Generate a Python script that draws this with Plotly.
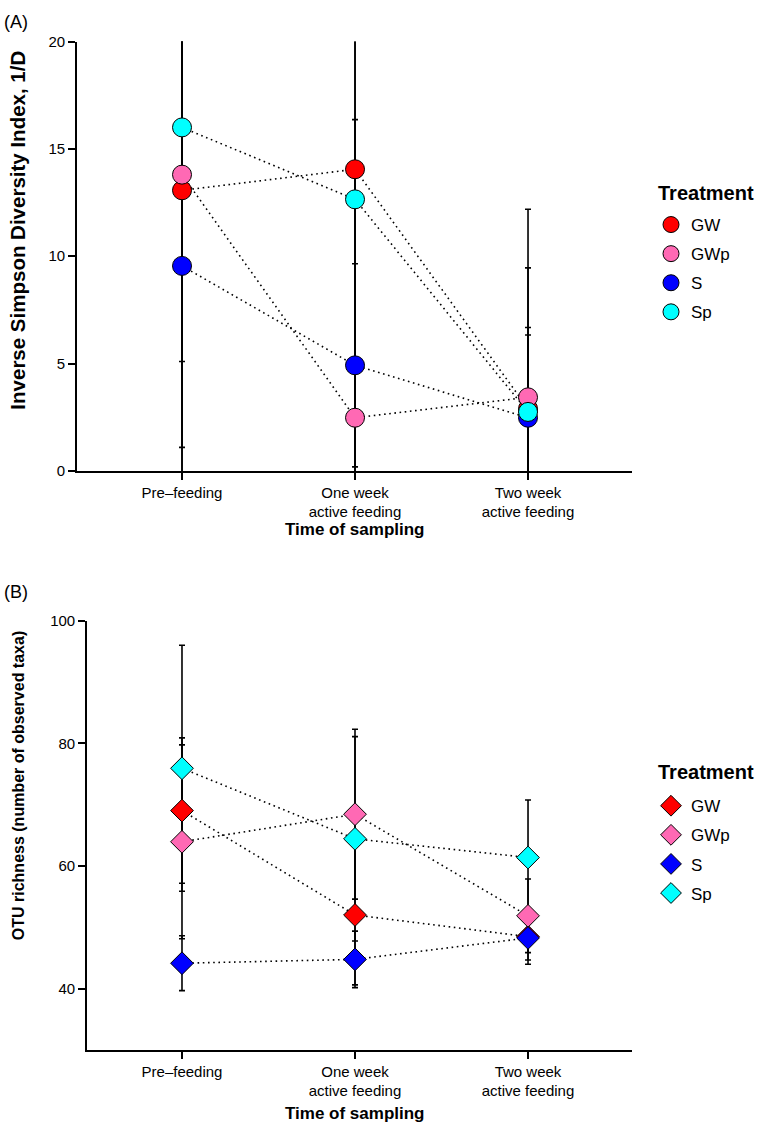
import plotly.graph_objects as go

# ---------------- data ----------------
tick_labels = ["Pre\u2013feeding", "One week<br>active feeding", "Two week<br>active feeding"]
time_pos = [1, 2, 3]
treatments = ["GW", "GWp", "S", "Sp"]
colors = ["#FF0000", "#FF69B4", "#0000FF", "#00FFFF"]

# Panel A: Inverse Simpson diversity (mean, error)
simpson_GW = [13.07, 14.05, 2.9]
simpson_GWp = [13.8, 2.48, 3.43]
simpson_S = [9.55, 4.92, 2.48]
simpson_Sp = [16.0, 12.65, 2.75]
simpson_err_GW = [14.0, 15.0, 6.56]
simpson_err_GWp = [12.7, 13.88, 8.76]
simpson_err_S = [11.0, 4.73, 3.85]
simpson_err_Sp = [10.9, 13.5, 3.93]

# Panel B: OTU richness (mean, error)
otu_GW = [69.05, 52.04, 48.5]
otu_GWp = [63.97, 68.46, 51.9]
otu_S = [44.17, 44.8, 48.3]
otu_Sp = [75.95, 64.45, 61.4]
otu_err_GW = [11.85, 11.4, 4.5]
otu_err_GWp = [15.8, 13.84, 6.0]
otu_err_S = [4.47, 4.6, 3.6]
otu_err_Sp = [20.05, 16.65, 9.37]

simpson = [simpson_GW, simpson_GWp, simpson_S, simpson_Sp]
simpson_err = [simpson_err_GW, simpson_err_GWp, simpson_err_S, simpson_err_Sp]
otu = [otu_GW, otu_GWp, otu_S, otu_Sp]
otu_err = [otu_err_GW, otu_err_GWp, otu_err_S, otu_err_Sp]

# ---------------- figure ----------------
W, H = 766, 1136
FONT = "Liberation Sans, Arial, Helvetica, sans-serif"
fig = go.Figure()


def px_x(p):
    return p / W


def px_y(p):
    return 1 - p / H


def add_panel(means, errs, xa, ya, symbol, msize, legend):
    # error bars first (beneath everything)
    for m, e in zip(means, errs):
        fig.add_trace(go.Scatter(
            x=time_pos, y=m, mode="markers", xaxis=xa, yaxis=ya,
            marker=dict(size=1, color="rgba(0,0,0,0)"),
            error_y=dict(type="data", array=e, visible=True, color="black",
                         thickness=1.6, width=3),
            showlegend=False, hoverinfo="skip"))
    # dotted connecting lines
    for m in means:
        fig.add_trace(go.Scatter(
            x=time_pos, y=m, mode="lines", xaxis=xa, yaxis=ya,
            line=dict(color="black", width=1.6, dash="1.6px,3.6px"),
            showlegend=False, hoverinfo="skip"))
    # markers
    for name, m, c in zip(treatments, means, colors):
        fig.add_trace(go.Scatter(
            x=time_pos, y=m, mode="markers", xaxis=xa, yaxis=ya, name=name,
            marker=dict(symbol=symbol, size=msize, color=c,
                        line=dict(color="black", width=1)),
            legend=legend, legendgroup=legend + name))


add_panel(simpson, simpson_err, "x", "y", "circle", 19, "legend")
add_panel(otu, otu_err, "x2", "y2", "diamond", 17.5, "legend2")

axis_common = dict(
    showline=True, linecolor="black", linewidth=1.6, ticks="outside",
    ticklen=7, tickwidth=1.6, tickcolor="black", showgrid=False,
    zeroline=False, tickfont=dict(family=FONT, size=15, color="black"),
)

legend_common = dict(xanchor="left", yanchor="top", font=dict(size=17, family=FONT),
                     tracegroupgap=4, bgcolor="rgba(0,0,0,0)")

fig.update_layout(
    width=W, height=H, margin=dict(l=0, r=0, t=0, b=0),
    paper_bgcolor="white", plot_bgcolor="white",
    font=dict(family=FONT, color="black"),
    xaxis=dict(domain=[px_x(77), px_x(632)], range=[0.393, 3.601],
               tickvals=time_pos, ticktext=tick_labels, anchor="y", **axis_common),
    yaxis=dict(domain=[px_y(469), px_y(33)], range=[0, 20],
               tickvals=[0, 5, 10, 15, 20], anchor="x", **axis_common),
    xaxis2=dict(domain=[px_x(87), px_x(632)], range=[0.451, 3.601],
                tickvals=time_pos, ticktext=tick_labels, anchor="y2", **axis_common),
    yaxis2=dict(domain=[px_y(1057), px_y(621)], range=[30, 100],
                tickvals=[40, 60, 80, 100], anchor="x2", **axis_common),
    legend=dict(x=px_x(651), y=px_y(201), **legend_common),
    legend2=dict(x=px_x(651), y=px_y(791), **legend_common),
)

annotations = [
    dict(text="(A)", x=px_x(2), y=px_y(13), xanchor="left", yanchor="middle",
         font=dict(size=18)),
    dict(text="(B)", x=px_x(2), y=px_y(592), xanchor="left", yanchor="middle",
         font=dict(size=18)),
    dict(text="<b>Inverse Simpson Diversity Index, 1/D</b>", textangle=-90,
         x=px_x(18), y=px_y(225), xanchor="center", yanchor="middle",
         font=dict(size=20.5)),
    dict(text="<b>OTU richness (number of observed taxa)</b>", textangle=-90,
         x=px_x(18), y=px_y(789), xanchor="center", yanchor="middle",
         font=dict(size=16)),
    dict(text="<b>Time of sampling</b>", x=px_x(355), y=px_y(528),
         xanchor="center", yanchor="middle", font=dict(size=17)),
    dict(text="<b>Time of sampling</b>", x=px_x(355), y=px_y(1121),
         xanchor="center", yanchor="middle", font=dict(size=17)),
    dict(text="<b>Treatment</b>", x=px_x(656), y=px_y(187),
         xanchor="left", yanchor="middle", font=dict(size=20)),
    dict(text="<b>Treatment</b>", x=px_x(656), y=px_y(775),
         xanchor="left", yanchor="middle", font=dict(size=20)),
]
for a in annotations:
    a.update(xref="paper", yref="paper", showarrow=False)
    a["font"].update(family=FONT, color="black")
fig.update_layout(annotations=annotations)

fig.write_html("out.html", config={"displayModeBar": False},
               post_script="document.body.style.margin='0';document.body.style.padding='0';")
